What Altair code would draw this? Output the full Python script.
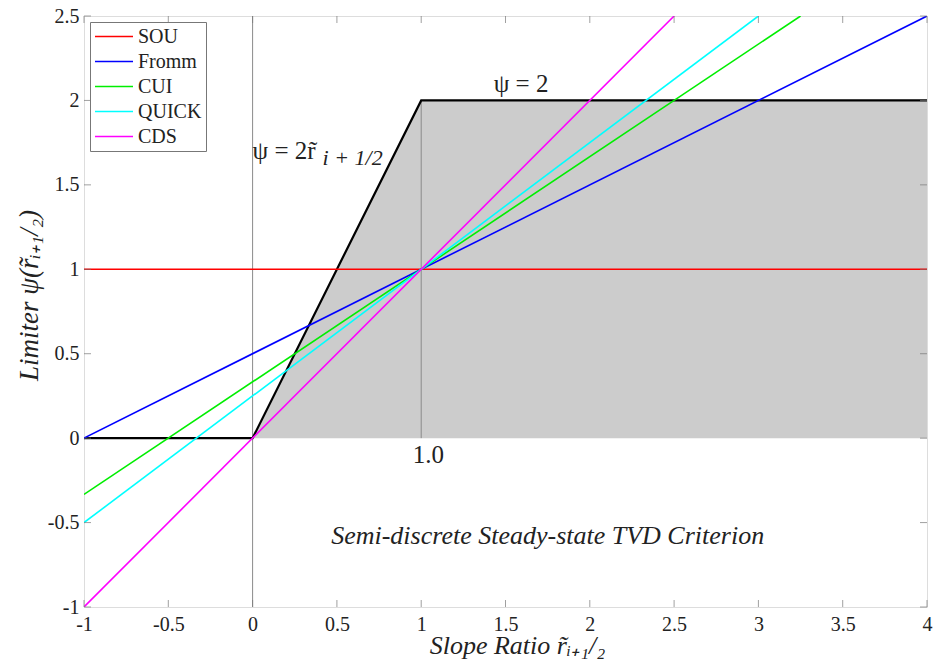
import altair as alt
import pandas as pd

# ---- data ----
schemes = ["SOU", "Fromm", "CUI", "QUICK", "CDS"]
scheme_colors = ["#ff0000", "#0000ff", "#00ee00", "#00ffff", "#ff00ff"]
# endpoints of each limiter line (r, psi)
r_start = [-1.0, -1.0, -1.0, -1.0, -1.0]
psi_start = [1.0, 0.0, -0.3333, -0.5, -1.0]
r_end = [4.0, 4.0, 3.25, 3.0, 2.5]
psi_end = [1.0, 2.5, 2.5, 2.5, 2.5]

# TVD region boundary
tvd_r = [-1.0, 0.0, 1.0, 4.0]
tvd_psi = [0.0, 0.0, 2.0, 2.0]
shade_r = [0.0, 1.0, 4.0]
shade_psi = [0.0, 2.0, 2.0]

# vertical reference lines
ref_r = [0.0, 1.0]
ref_lo = [-1.0, 0.0]
ref_hi = [2.5, 2.0]

x_ticks = [-1, -0.5, 0, 0.5, 1, 1.5, 2, 2.5, 3, 3.5, 4]
y_ticks = [-1, -0.5, 0, 0.5, 1, 1.5, 2, 2.5]

ann_text = ["ψ = 2", "ψ = 2r̃", "1.0"]
ann_r = [1.43, 0.0, 0.95]
ann_psi = [2.1, 1.7, -0.1]
sub_text = ["i + 1/2"]
sub_r = [0.0]
sub_psi = [1.7]
crit_text = ["Semi-discrete Steady-state TVD Criterion"]
crit_r = [1.75]
crit_psi = [-0.58]

W, H = 843, 591
SERIF = "'Liberation Serif', serif"

rows = []
for n, a, b, c, d in zip(schemes, r_start, psi_start, r_end, psi_end):
    rows.append({"scheme": n, "r": a, "psi": b, "o": 0})
    rows.append({"scheme": n, "r": c, "psi": d, "o": 1})
lines_df = pd.DataFrame(rows)
tvd_df = pd.DataFrame({"r": tvd_r, "psi": tvd_psi})
shade_df = pd.DataFrame({"r": shade_r, "psi": shade_psi})
ref_df = pd.DataFrame({"r": ref_r, "lo": ref_lo, "hi": ref_hi})
xt_df = pd.DataFrame({"v": x_ticks})
yt_df = pd.DataFrame({"v": y_ticks})
ann_df = pd.DataFrame({"t": ann_text, "r": ann_r, "psi": ann_psi})
sub_df = pd.DataFrame({"t": sub_text, "r": sub_r, "psi": sub_psi})
crit_df = pd.DataFrame({"t": crit_text, "r": crit_r, "psi": crit_psi})

xs = alt.Scale(domain=[-1, 4], nice=False, zero=False)
ys = alt.Scale(domain=[-1, 2.5], nice=False, zero=False)

x_axis = alt.Axis(values=x_ticks, labelExpr="'' + datum.value", ticks=False, domain=False,
                  grid=False, labelFont=SERIF, labelFontSize=20, labelColor="#222",
                  labelPadding=7, title="Slope Ratio r̃ᵢ₊₁/₂", titleFont=SERIF,
                  titleFontStyle="italic", titleFontWeight="normal", titleFontSize=26,
                  titleColor="#222", titleX=433, titleY=46, titleBaseline="alphabetic",
                  titleAlign="center", labelFlush=False)
y_axis = alt.Axis(values=y_ticks, labelExpr="'' + datum.value", ticks=False, domain=False,
                  grid=False, labelFont=SERIF, labelFontSize=20, labelColor="#222",
                  labelPadding=5, title="Limiter ψ(r̃ᵢ₊₁/₂)", titleFont=SERIF,
                  titleFontStyle="italic", titleFontWeight="normal", titleFontSize=27,
                  titleColor="#222", titleX=-47, titleY=279, titleAngle=-90,
                  titleBaseline="alphabetic", titleAlign="center", labelFlush=False)

shade = alt.Chart(shade_df).mark_area(color="#cccccc", opacity=1).encode(
    x=alt.X("r:Q", scale=xs, axis=x_axis),
    y=alt.Y("psi:Q", scale=ys, axis=y_axis),
    y2=alt.datum(0),
)

refs = alt.Chart(ref_df).mark_rule(color="#8a8a8a", strokeWidth=1).encode(
    x="r:Q", y="lo:Q", y2="hi:Q"
)

tvd = alt.Chart(tvd_df).mark_line(color="black", strokeWidth=2.2).encode(
    x="r:Q", y="psi:Q"
)

lines = alt.Chart(lines_df).mark_line(strokeWidth=1.6, clip=True).encode(
    x="r:Q", y="psi:Q", order="o:Q",
    color=alt.Color("scheme:N",
                    scale=alt.Scale(domain=schemes, range=scheme_colors),
                    sort=schemes,
                    legend=alt.Legend(title=None, orient="top-left", offset=6,
                                      symbolType="M-1,0H3", symbolSize=361,
                                      symbolStrokeWidth=1.6, labelFont=SERIF,
                                      labelFontSize=20, labelColor="#222",
                                      rowPadding=4, padding=4, labelOffset=23,
                                      strokeColor="#777", fillColor="white",
                                      cornerRadius=0)),
)

xb = alt.Chart(xt_df).mark_tick(color="#777", thickness=1, size=7).encode(
    x="v:Q", y=alt.value(H - 3.5))
xtop = alt.Chart(xt_df).mark_tick(color="#777", thickness=1, size=7).encode(
    x="v:Q", y=alt.value(3.5))
yl = alt.Chart(yt_df).mark_tick(color="#777", thickness=1, size=7).encode(
    y="v:Q", x=alt.value(3.5))
yr = alt.Chart(yt_df).mark_tick(color="#777", thickness=1, size=7).encode(
    y="v:Q", x=alt.value(W - 3.5))

ann = alt.Chart(ann_df).mark_text(font=SERIF, fontSize=25, color="#222", align="left",
                                   baseline="middle").encode(
    x="r:Q", y="psi:Q", text="t:N")
sub = alt.Chart(sub_df).mark_text(font=SERIF, fontSize=22, fontStyle="italic",
                                   color="#222", align="left", baseline="middle",
                                   dx=70, dy=7).encode(
    x="r:Q", y="psi:Q", text="t:N")
crit = alt.Chart(crit_df).mark_text(font=SERIF, fontSize=26, fontStyle="italic",
                                    color="#222", align="center",
                                    baseline="middle").encode(
    x="r:Q", y="psi:Q", text="t:N")

chart = alt.layer(shade, refs, tvd, lines, xb, xtop, yl, yr, ann, sub, crit).properties(
    width=W, height=H,
    autosize=alt.AutoSizeParams(type="none"),
    padding={"left": 84, "top": 16, "right": 8, "bottom": 57},
).configure_view(stroke="#888", strokeWidth=1).configure(background="white")

chart.save("out.html", embed_options={"renderer": "svg", "actions": False})
